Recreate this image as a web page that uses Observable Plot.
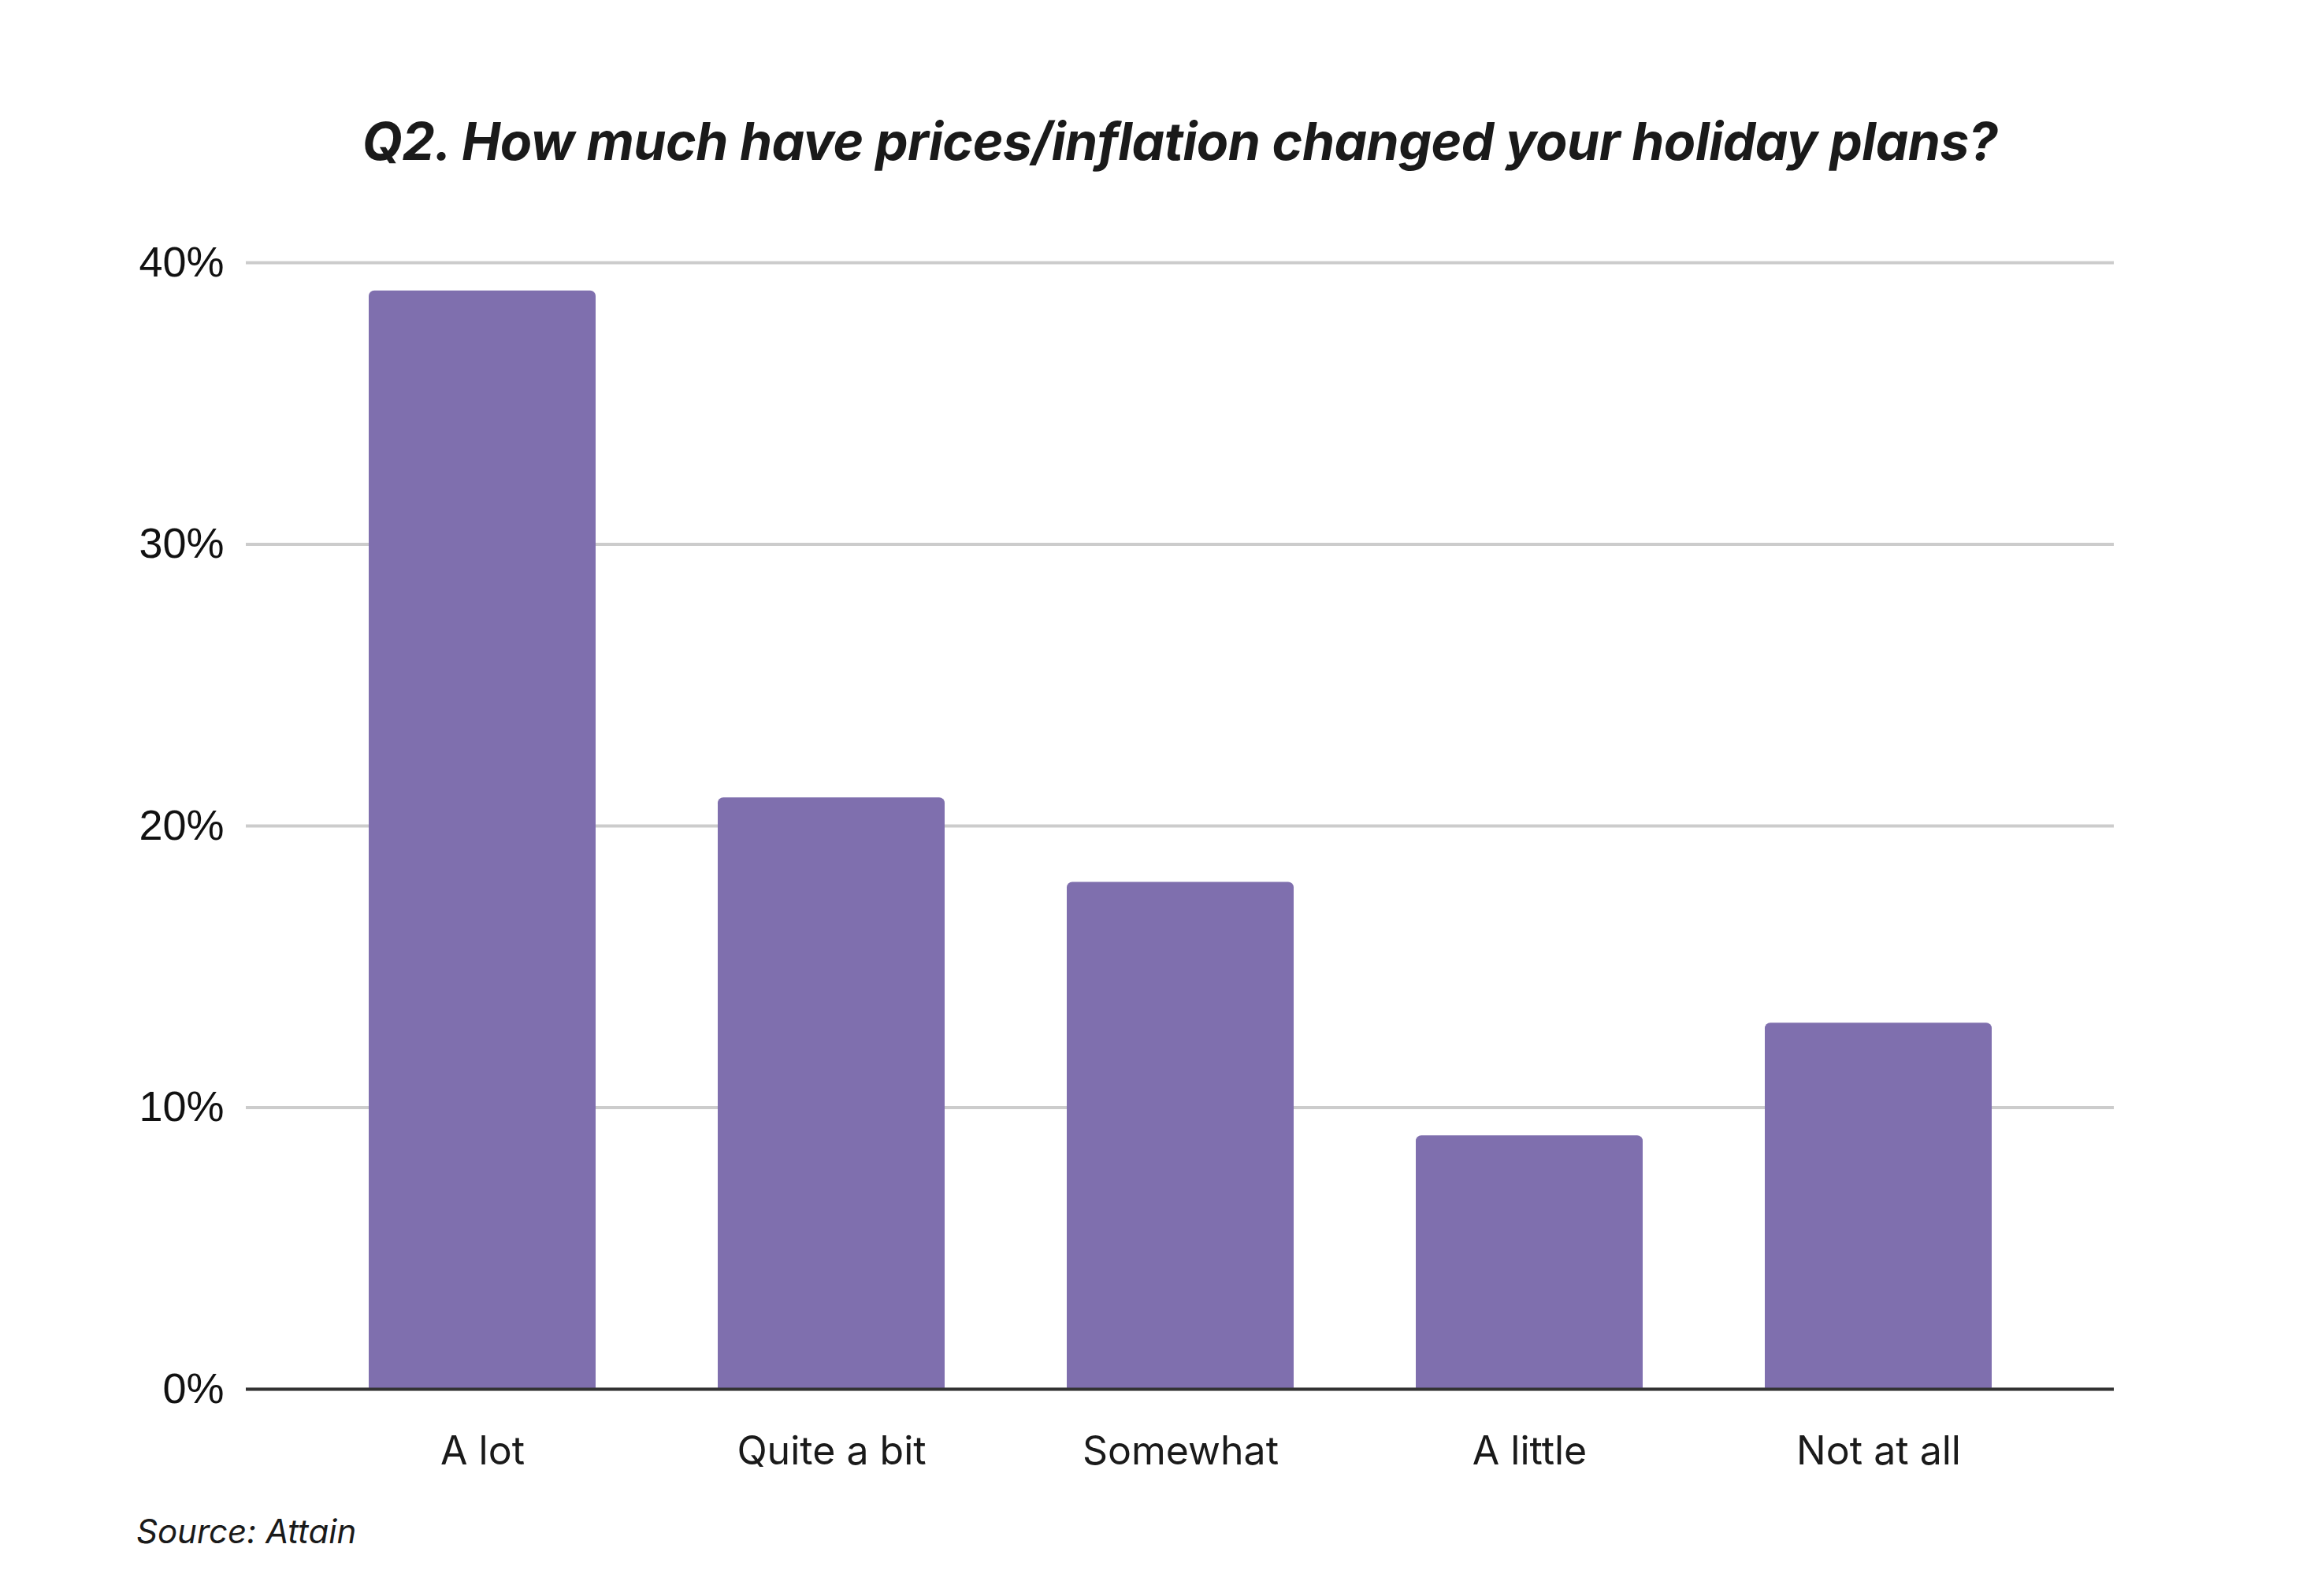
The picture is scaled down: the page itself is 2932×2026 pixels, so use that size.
<!DOCTYPE html>
<html>
<head>
<meta charset="utf-8">
<script src="https://cdn.jsdelivr.net/npm/d3@7"></script>
<script src="https://cdn.jsdelivr.net/npm/@observablehq/plot@0.6"></script>
<style>
  html, body { margin: 0; padding: 0; background: #fff; }
  #wrap { position: relative; width: 2932px; height: 2026px; background: #fff; overflow: hidden; }
  #title { position: absolute; left: 312px; width: 2371px; top: 146px; text-align: center;
           font-family: Inter, "Open Sans", sans-serif; font-weight: 700; font-style: italic;
           font-size: 66px; color: #1a1a1a; line-height: 1; letter-spacing: -0.5px; white-space: nowrap; }
  #chart { position: absolute; left: 0; top: 260px; }
  #source { position: absolute; left: 173px; top: 1923px; font-family: Inter, "Open Sans", sans-serif;
            font-style: italic; font-size: 42px; color: #1a1a1a; line-height: 1; }
</style>
</head>
<body>
<div id="wrap">
  <div id="title"></div>
  <div id="chart"></div>
  <div id="source"></div>
</div>
<script>
const titleText = "Q2. How much have prices/inflation changed your holiday plans?";
const sourceText = "Source: Attain";
const categories = ["A lot", "Quite a bit", "Somewhat", "A little", "Not at all"];
const values = [39, 21, 18, 9, 13];
const yTicks = [0, 10, 20, 30, 40];

const data = categories.map((c, i) => ({category: c, value: values[i]}));

document.getElementById("title").textContent = titleText;
document.getElementById("source").textContent = sourceText;

const plot = Plot.plot({
  width: 2932,
  height: 1660,
  marginTop: 73,
  marginBottom: 157,
  marginLeft: 312,
  marginRight: 249,
  style: {background: "transparent"},
  x: {domain: categories, padding: 0.35, label: null},
  y: {domain: [0, 40], label: null},
  marks: [
    Plot.gridY(yTicks, {stroke: "#cccccc", strokeOpacity: 1, strokeWidth: 4}),
    Plot.barY(data, {x: "category", y: "value", fill: "#7f6fae", rx: 7, insetBottom: -12, clip: true}),
    Plot.ruleY([0], {stroke: "#333333", strokeWidth: 4}),
    Plot.axisY(yTicks, {tickSize: 0, tickPadding: 28, tickFormat: d => d + "%",
      fontSize: 54, fill: "#111", fontFamily: "'Liberation Sans', Arial, sans-serif", label: null}),
    Plot.axisX({tickSize: 0, tickPadding: 60, fontSize: 50, fill: "#1a1a1a",
      fontFamily: "Inter, 'Open Sans', sans-serif", label: null})
  ]
});
document.getElementById("chart").appendChild(plot);
</script>
</body>
</html>
